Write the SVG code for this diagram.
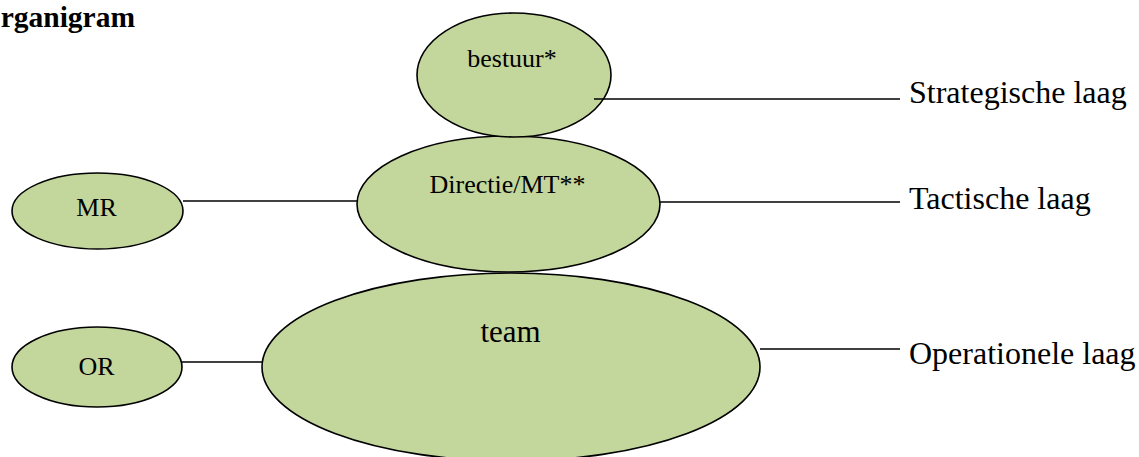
<svg xmlns="http://www.w3.org/2000/svg" width="1139" height="457" viewBox="0 0 1139 457">
<style>
.node{fill:#C3D69B;stroke:#000;stroke-width:1.6}
.conn line{stroke:#000;stroke-width:1.6}
text{font-family:"Liberation Serif","Times New Roman",serif;fill:#000}
.lbl{font-size:26px;text-anchor:middle}
.big{font-size:31px}
.layer{font-size:32px}
</style>
<rect width="1139" height="457" fill="#fff"/>
<text x="135" y="27" font-size="29.5" font-weight="bold" text-anchor="end">Organigram</text>
<g id="n-team"><ellipse class="node" cx="511" cy="367" rx="249" ry="94"/><text class="lbl big" x="510.5" y="342">team</text></g>
<g id="n-directie"><ellipse class="node" cx="508.5" cy="204" rx="151.5" ry="68"/><text class="lbl" x="507.5" y="193">Directie/MT**</text></g>
<g id="n-bestuur"><ellipse class="node" cx="514" cy="75" rx="97" ry="62"/><text class="lbl" x="512" y="67">bestuur*</text></g>
<g id="n-mr"><ellipse class="node" cx="97.5" cy="211" rx="85.5" ry="38"/><text class="lbl" x="96.5" y="216">MR</text></g>
<g id="n-or"><ellipse class="node" cx="97" cy="367" rx="85" ry="40"/><text class="lbl" x="96.5" y="375">OR</text></g>
<g id="connectors" class="conn">
<line x1="594" y1="99" x2="900" y2="99"/>
<line x1="660" y1="202" x2="900" y2="202"/>
<line x1="760" y1="349" x2="900" y2="349"/>
<line x1="183" y1="201" x2="358" y2="201"/>
<line x1="182" y1="362" x2="263" y2="362"/>
</g>
<g id="labels">
<text class="layer" x="909" y="103">Strategische laag</text>
<text class="layer" x="909" y="209">Tactische laag</text>
<text class="layer" x="909" y="364">Operationele laag</text>
</g>
</svg>
